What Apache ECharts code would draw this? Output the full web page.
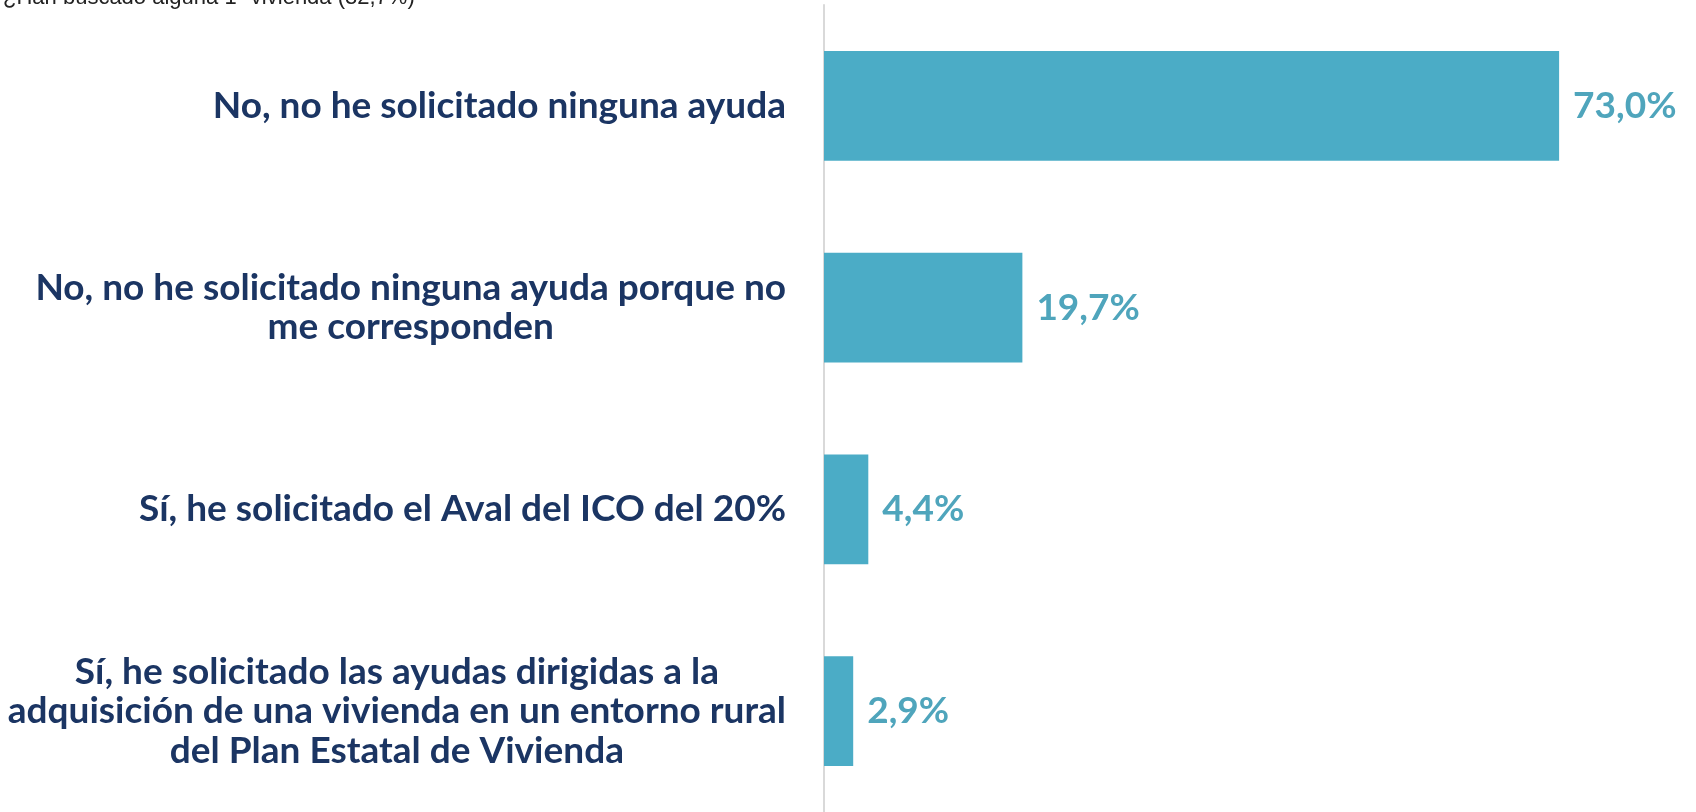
<!DOCTYPE html>
<html>
<head>
<meta charset="utf-8">
<script src="https://cdn.jsdelivr.net/npm/echarts@6/dist/echarts.min.js"></script>
<style>
  html, body { margin: 0; padding: 0; background: #fff; }
  #chart { width: 1696px; height: 812px; }
</style>
</head>
<body>
<div id="chart"></div>
<script>
// categories (top to bottom) and percentages
const categories = [
  'No, no he solicitado ninguna ayuda',
  'No, no he solicitado ninguna ayuda porque no\nme corresponden',
  'Sí, he solicitado el Aval del ICO del 20%',
  'Sí, he solicitado las ayudas dirigidas a la\nadquisición de una vivienda en un entorno rural\ndel Plan Estatal de Vivienda'
]
const values = [73.0, 19.7, 4.4, 2.9]
const titleText = '¿Han buscado alguna 1ª vivienda (32,7%)'

const barColor = '#4BACC6'
const labelColor = '#4FA5BC'
const navy = '#1B3563'

const chart = echarts.init(document.getElementById('chart'))
chart.setOption({
  animation: false,
  title: {
    text: titleText,
    left: -2,
    top: -18,
    textStyle: {
      fontFamily: 'Liberation Sans',
      fontWeight: 'normal',
      fontSize: 22,
      color: '#222'
    }
  },
  grid: {
    left: 824,
    top: 5,
    width: 805.6,
    height: 810
  },
  xAxis: {
    type: 'value',
    min: 0,
    max: 80,
    show: false
  },
  yAxis: {
    type: 'category',
    data: categories,
    inverse: true,
    axisLine: { show: true, lineStyle: { color: '#D9D9D9', width: 2 } },
    axisTick: { show: false },
    splitLine: { show: false },
    axisLabel: {
      margin: 38,
      align: 'right',
      formatter: function (v) {
        return v.split('\n').map(function (l) { return '{c|' + l + '}' }).join('\n')
      },
      rich: {
        c: {
          align: 'center',
          fontFamily: 'Lato',
          fontWeight: 'bold',
          fontSize: 37,
          lineHeight: 39.5,
          color: navy
        }
      }
    }
  },
  series: [{
    type: 'bar',
    data: values,
    barCategoryGap: '45.6%',
    itemStyle: { color: barColor },
    label: {
      show: true,
      position: 'right',
      distance: 14,
      formatter: function (p) { return p.value.toFixed(1).replace('.', ',') + '%' },
      fontFamily: 'Lato',
      fontWeight: 'bold',
      fontSize: 37,
      color: labelColor
    }
  }]
})
</script>
</body>
</html>
